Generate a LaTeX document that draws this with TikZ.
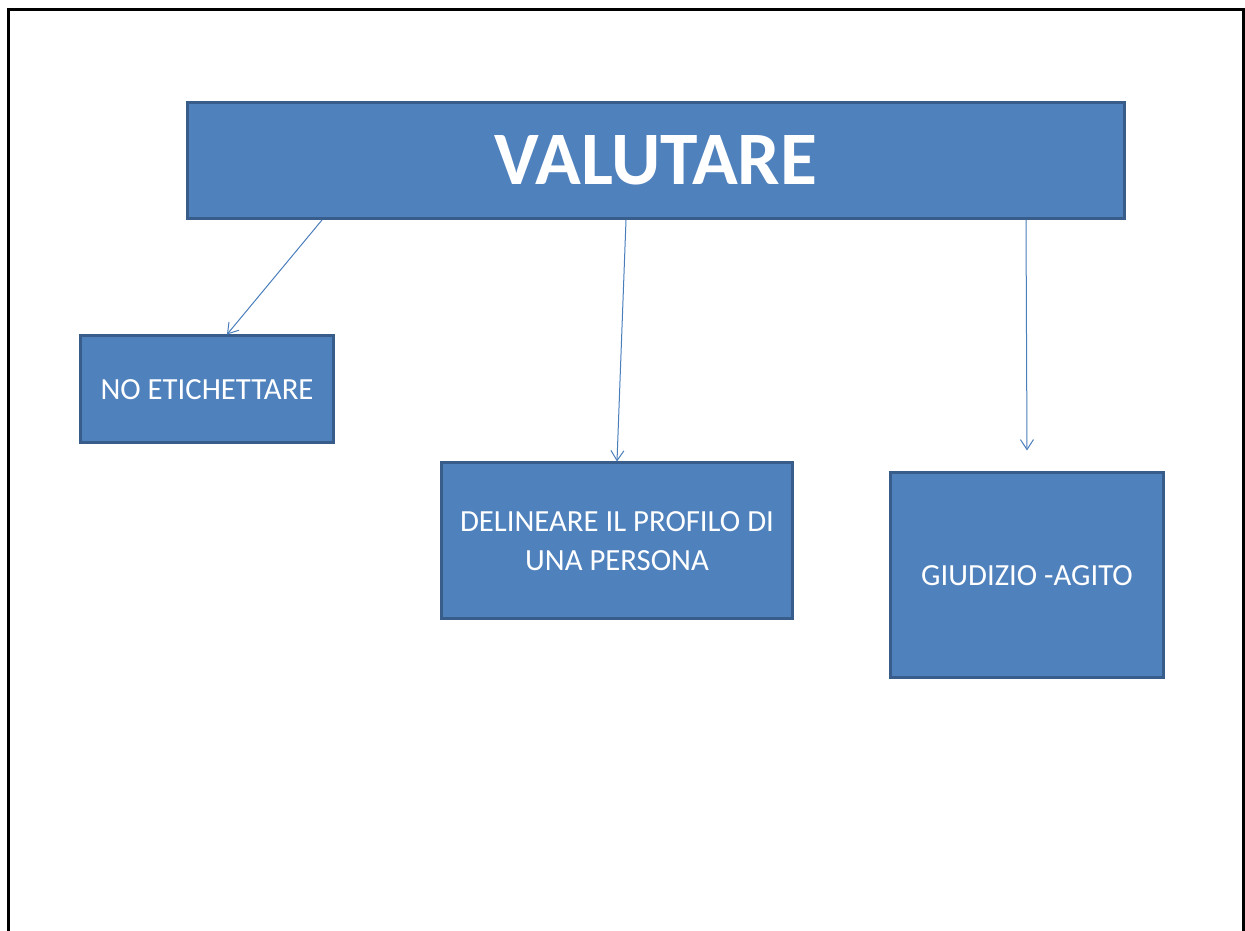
\documentclass[tikz,border=0pt]{standalone}
\usepackage{fontspec}
\setmainfont{Carlito}
\usepackage{tikz}
\usetikzlibrary{shapes,arrows.meta}
\definecolor{boxfill}{HTML}{4F81BD}
\definecolor{boxline}{HTML}{385D8A}
\definecolor{arrline}{HTML}{4A7EBB}

\begin{document}
\begin{tikzpicture}[scale=1]
		\tikzstyle{concept}=[draw=boxline,line width=0.06cm,fill=boxfill,rectangle,text=white,text centered,align=center,inner sep=4pt,anchor=south west]
		\tikzstyle{link}=[draw=arrline,line width=0.02cm,-{Straight Barb[length=0.2cm,width=0.26cm]}]
		
		\useasboundingbox (0,0) rectangle (24.9,18.62);
		\draw[line width=0.06cm] (0.16,0) -- (0.16,18.42) -- (24.86,18.42) -- (24.86,0);
		
		\node[concept,minimum width=18.74cm,minimum height=2.32cm,font=\fontsize{43}{50}\selectfont\bfseries] (valutare) at (3.72,14.22) {\raisebox{-0.1cm}{VALUTARE}};
		
		\node[concept,minimum width=5.06cm,minimum height=2.14cm,font=\fontsize{17.5}{22}\selectfont] (noetich) at (1.58,9.73) {NO ETICHETTARE};
		\node[concept,minimum width=7.02cm,minimum height=3.12cm,font=\fontsize{17.5}{22}\selectfont] (profilo) at (8.8,6.21) {DELINEARE IL PROFILO DI\\UNA PERSONA};
		\node[concept,minimum width=5.46cm,minimum height=4.1cm,font=\fontsize{17.5}{22}\selectfont] (giudizio) at (17.78,5.03) {GIUDIZIO -AGITO};
		
		\draw[link] ([xshift=2.72cm]valutare.south west) -- ([xshift=2.96cm]noetich.north west);
		\draw[link] ([xshift=8.8cm]valutare.south west) -- ([xshift=3.54cm]profilo.north west);
		\draw[link] ([xshift=16.8cm]valutare.south west) -- ([yshift=0.42cm]giudizio.north);
		
\end{tikzpicture}
\end{document}
